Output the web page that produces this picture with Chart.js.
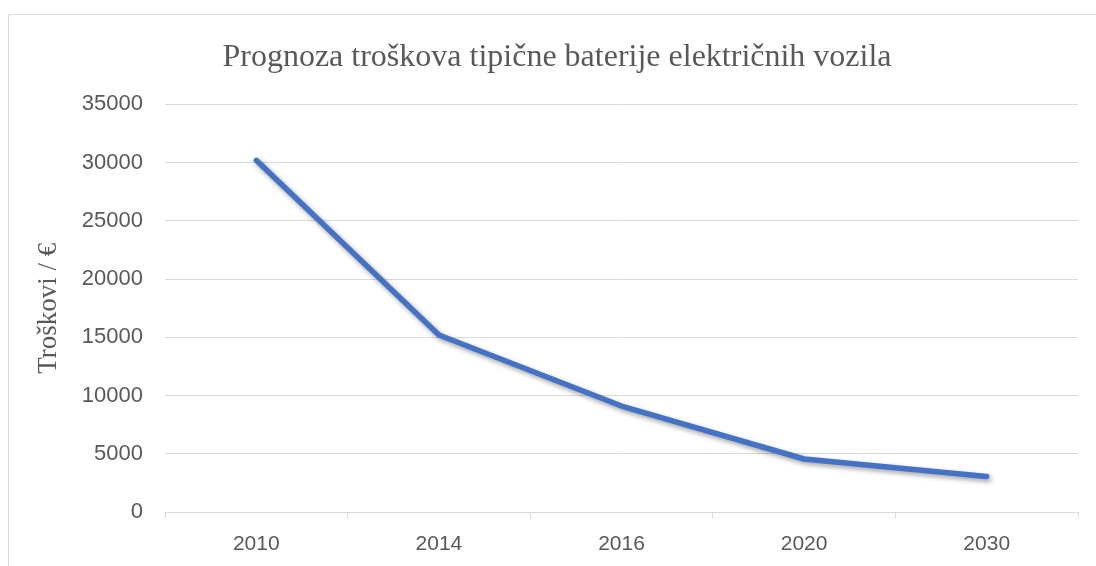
<!DOCTYPE html>
<html>
<head>
<meta charset="utf-8">
<script src="https://cdn.jsdelivr.net/npm/chart.js@4/dist/chart.umd.min.js"></script>
<style>
  html, body { margin: 0; padding: 0; background: #fff; }
  #wrap { position: relative; width: 1096px; height: 566px; overflow: hidden; }
  #frame { position: absolute; left: 8px; top: 14px; width: 1200px; height: 700px; border: 1px solid #d9d9d9; box-sizing: border-box; }
  #c { position: absolute; left: 0; top: 0; }
</style>
</head>
<body>
<div id="wrap">
  <div id="frame"></div>
  <canvas id="c" width="1096" height="566"></canvas>
</div>
<script>
const titleText = 'Prognoza troškova tipične baterije električnih vozila';
const yTitle = 'Troškovi / €';
const categories = ['2010', '2014', '2016', '2020', '2030'];
const costs = [30200, 15200, 9100, 4550, 3050];

const shadowPlugin = {
  id: 'lineShadow',
  beforeDatasetDraw(chart) {
    const ctx = chart.ctx;
    ctx.save();
    ctx.shadowColor = 'rgba(0,0,0,0.38)';
    ctx.shadowBlur = 5;
    ctx.shadowOffsetX = 2;
    ctx.shadowOffsetY = 2.5;
  },
  afterDatasetDraw(chart) {
    chart.ctx.restore();
  }
};

new Chart(document.getElementById('c'), {
  type: 'line',
  data: {
    labels: categories,
    datasets: [{
      data: costs,
      borderColor: '#4472C4',
      borderWidth: 5.5,
      borderCapStyle: 'round',
      borderJoinStyle: 'round',
      pointRadius: 0,
      pointHoverRadius: 0,
      tension: 0,
      fill: false
    }]
  },
  options: {
    responsive: false,
    animation: false,
    devicePixelRatio: 1,
    layout: { padding: { left: 36, right: 18, top: 0, bottom: 0 } },
    plugins: {
      legend: { display: false },
      tooltip: { enabled: false },
      title: {
        display: true,
        text: titleText,
        color: '#595959',
        font: { family: '"Liberation Serif", "Times New Roman", serif', size: 32, weight: 'normal', lineHeight: 1.2 },
        padding: { top: 38, bottom: 28 }
      }
    },
    scales: {
      x: {
        type: 'category',
        offset: true,
        border: { display: true, color: '#d9d9d9', width: 1 },
        grid: { offset: true, drawOnChartArea: false, drawTicks: true, tickLength: 6, color: '#d9d9d9' },
        ticks: { color: '#595959', padding: 14, font: { family: '"Liberation Sans", Arial, sans-serif', size: 21, lineHeight: 1.2 } },
        afterFit(scale) { scale.height = 54; }
      },
      y: {
        min: 0,
        max: 35000,
        border: { display: false },
        grid: { color: '#d9d9d9', lineWidth: 1, drawTicks: false },
        ticks: {
          stepSize: 5000, color: '#595959', padding: 22,
          font: { family: '"Liberation Sans", Arial, sans-serif', size: 22 },
          callback: (v) => String(v)
        },
        title: {
          display: true,
          text: yTitle,
          color: '#595959',
          font: { family: '"Liberation Serif", "Times New Roman", serif', size: 27, weight: 'normal', lineHeight: 1.2 },
          padding: { top: -3, bottom: 0 }
        },
        afterFit(scale) { scale.width = 129; }
      }
    }
  },
  plugins: [shadowPlugin]
});
</script>
</body>
</html>
